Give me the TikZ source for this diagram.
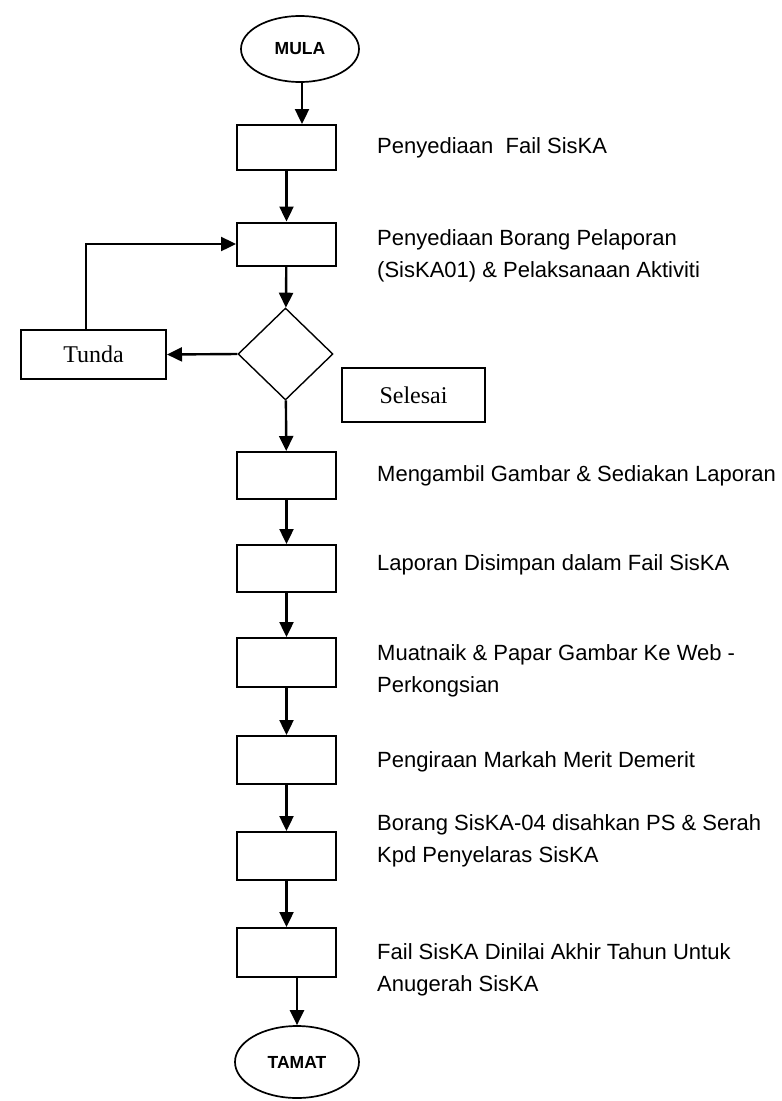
\documentclass[tikz,border=0pt]{standalone}
\usepackage{fontspec}
\setmainfont{Liberation Sans}
\newfontfamily\serifface{Liberation Serif}
\usetikzlibrary{arrows.meta,shapes.geometric}
\begin{document}
\begin{tikzpicture}[x=1pt,y=-1pt,
  proc/.style={draw, line width=2pt, minimum width=99pt, minimum height=47pt, inner sep=0pt},
  term/.style={draw, ellipse, line width=1.7pt, inner sep=0pt,
    font=\fontsize{17.5}{20}\selectfont\bfseries},
  decide/.style={draw, diamond, line width=1.4pt, inner sep=0pt,
    minimum width=95pt, minimum height=92pt, aspect=1.03},
  notebox/.style={draw, line width=2pt, inner sep=0pt,
    font=\serifface\fontsize{24}{28}\selectfont},
  steptext/.style={anchor=west, align=left, inner sep=0pt,
    font=\fontsize{22}{32}\selectfont},
  flow/.style={line width=2.4pt, -{Triangle[length=15pt,width=14pt]}}
]
\useasboundingbox (0,0) rectangle (782,1101);

% terminals
\node[term, minimum width=118pt, minimum height=66pt] (mula) at (300,49) {MULA};
\node[term, minimum width=124pt, minimum height=72pt] (tamat) at (297,1062) {TAMAT};

% process boxes
\node[proc, minimum height=45pt] (b1) at (286.5,147.5) {};
\node[proc, minimum height=43pt] (b2) at (286.5,244) {};
\node[decide] (d) at (285.5,354) {};
\node[proc] (b3) at (286.5,475.5) {};
\node[proc] (b4) at (286.5,568.5) {};
\node[proc, minimum height=49pt] (b5) at (286.5,662.5) {};
\node[proc, minimum height=48pt] (b6) at (286.5,760) {};
\node[proc, minimum height=48pt] (b7) at (286.5,856) {};
\node[proc, minimum height=49pt] (b8) at (286.5,952.5) {};

% side boxes
\node[notebox, minimum width=145pt, minimum height=49pt] (tunda) at (93.5,354.5) {Tunda};
\node[notebox, minimum width=143pt, minimum height=54pt] (selesai) at (413.5,395) {Selesai};

% step descriptions
\node[steptext] (t1) at (377,148) {Penyediaan\ \ Fail SisKA};
\node[steptext] (t2) at (377,256) {Penyediaan Borang Pelaporan\\(SisKA01) \& Pelaksanaan Aktiviti};
\node[steptext] (t3) at (377,476) {Mengambil Gambar \& Sediakan Laporan};
\node[steptext] (t4) at (377,565) {Laporan Disimpan dalam Fail SisKA};
\node[steptext] (t5) at (377,671) {Muatnaik \& Papar Gambar Ke Web -\\Perkongsian};
\node[steptext] (t6) at (377,762) {Pengiraan Markah Merit Demerit};
\node[steptext] (t7) at (377,841) {Borang SisKA-04 disahkan PS \& Serah\\Kpd Penyelaras SisKA};
\node[steptext] (t8) at (377,970) {Fail SisKA Dinilai Akhir Tahun Untuk\\Anugerah SisKA};

% main flow
\coordinate (m0) at (302,0);
\draw[flow] (mula.south -| m0) -- (b1.north -| m0);
\draw[flow] (b1) -- (b2);
\draw[flow] (b2) -- (d);
\draw[flow] (d) -- (b3);
\draw[flow] (b3) -- (b4);
\draw[flow] (b4) -- (b5);
\draw[flow] (b5) -- (b6);
\draw[flow] (b6) -- (b7);
\draw[flow] (b7) -- (b8);
\draw[flow] (b8.south -| tamat.north) -- (tamat.north);

% postpone loop
\draw[flow] (d.west) -- (tunda.east);
\coordinate (lp) at (86,0);
\draw[flow] (tunda.north -| lp) |- (b2.west);
\end{tikzpicture}
\end{document}
